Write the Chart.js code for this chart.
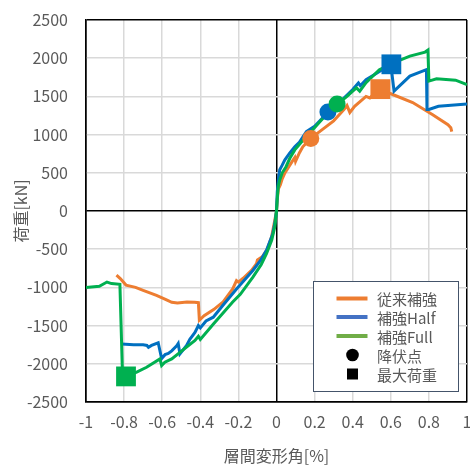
<!DOCTYPE html>
<html>
<head>
<meta charset="utf-8">
<script src="https://cdn.jsdelivr.net/npm/chart.js@4/dist/chart.umd.min.js"></script>
<style>
  html, body { margin: 0; padding: 0; background: #fff; }
  canvas { display: block; }
</style>
</head>
<body>
<canvas id="c" width="470" height="466"></canvas>
<script>
// 層間変形角[%] と 荷重[kN] の包絡線（各試験体）
const conventionalDrift = [-0.84, -0.82, -0.79, -0.74, -0.70, -0.63, -0.58, -0.55, -0.52, -0.47, -0.43, -0.41, -0.405, -0.38, -0.33, -0.28, -0.23, -0.21, -0.20, -0.175, -0.13, -0.105, -0.10, -0.075, -0.05, -0.026, -0.009, 0,
  0.004, 0.01, 0.02, 0.03, 0.044, 0.06, 0.08, 0.096, 0.10, 0.12, 0.138, 0.18, 0.24, 0.30, 0.355, 0.37, 0.385, 0.41, 0.47, 0.49, 0.54, 0.61, 0.715, 0.82, 0.90, 0.915, 0.92];
const conventionalLoad = [-840, -885, -970, -1000, -1040, -1105, -1160, -1195, -1205, -1190, -1195, -1200, -1430, -1370, -1290, -1190, -1020, -910, -930, -880, -775, -690, -640, -600, -510, -340, -120, 0,
  150, 290, 340, 420, 500, 560, 640, 700, 650, 760, 840, 950, 1065, 1180, 1330, 1380, 1290, 1370, 1500, 1480, 1595, 1525, 1420, 1260, 1130, 1090, 1040];

const halfDrift = [-0.813, -0.75, -0.70, -0.68, -0.672, -0.656, -0.621, -0.603, -0.585, -0.568, -0.55, -0.524, -0.516, -0.507, -0.472, -0.455, -0.428, -0.41, -0.40, -0.37, -0.332, -0.28, -0.21, -0.16, -0.123, -0.085, -0.052, -0.02, -0.009, 0,
  0.004, 0.01, 0.017, 0.03, 0.044, 0.07, 0.096, 0.12, 0.157, 0.20, 0.27, 0.33, 0.40, 0.43, 0.44, 0.47, 0.53, 0.60, 0.617, 0.70, 0.787, 0.79, 0.80, 0.85, 0.90, 1.0];
const halfLoad = [-1740, -1750, -1752, -1760, -1785, -1760, -1725, -1930, -1880, -1865, -1830, -1765, -1735, -1870, -1760, -1680, -1590, -1500, -1530, -1440, -1390, -1230, -1020, -880, -775, -650, -512, -300, -162, 0,
  250, 420, 540, 600, 670, 760, 840, 900, 1040, 1110, 1290, 1420, 1590, 1675, 1640, 1720, 1810, 1920, 1570, 1765, 1850, 1330, 1330, 1370, 1380, 1400];

const fullDrift = [-1.0, -0.93, -0.89, -0.866, -0.822, -0.808, -0.79, -0.734, -0.682, -0.612, -0.603, -0.586, -0.55, -0.507, -0.428, -0.41, -0.40, -0.33, -0.23, -0.19, -0.123, -0.08, -0.052, -0.025, -0.009, 0,
  0.005, 0.01, 0.017, 0.03, 0.05, 0.07, 0.096, 0.14, 0.19, 0.25, 0.32, 0.37, 0.40, 0.42, 0.437, 0.47, 0.54, 0.62, 0.70, 0.78, 0.795, 0.80, 0.84, 0.89, 0.94, 1.0];
const fullLoad = [-1000, -985, -930, -950, -960, -2170, -2165, -2110, -2046, -1936, -2024, -1980, -1936, -1850, -1695, -1640, -1680, -1476, -1192, -1090, -863, -700, -556, -380, -206, 0,
  200, 330, 407, 500, 580, 690, 800, 930, 1064, 1230, 1400, 1500, 1568, 1612, 1568, 1680, 1850, 1945, 2027, 2080, 2106, 1700, 1730, 1720, 1712, 1656];

// 降伏点・最大荷重 [従来補強, 補強Half, 補強Full]
const yieldDrift = [0.18, 0.27, 0.318];
const yieldLoad = [950, 1295, 1400];
const maxDrift = [0.545, 0.603, -0.79];
const maxLoad = [1595, 1920, -2165];

const xTicks = [-1, -0.8, -0.6, -0.4, -0.2, 0, 0.2, 0.4, 0.6, 0.8, 1];
const yTicks = [-2500, -2000, -1500, -1000, -500, 0, 500, 1000, 1500, 2000, 2500];

const seriesNames = ['従来補強', '補強Half', '補強Full'];
const lineColors = ['#ED7D31', '#0070C0', '#00B050'];
const legendColors = ['#ED7D31', '#4472C4', '#70AD47'];

const FONT = "'Noto Sans CJK JP', 'Noto Sans', sans-serif";
const TEXT = '#595959';

const pts = (xs, ys) => xs.map((x, i) => ({ x, y: ys[i] }));

const curves = [
  [conventionalDrift, conventionalLoad],
  [halfDrift, halfLoad],
  [fullDrift, fullLoad]
];

const datasets = [];
// markers on top
for (let i = 2; i >= 0; i--) {
  datasets.push({
    label: seriesNames[i] + ' 最大荷重',
    data: [{ x: maxDrift[i], y: maxLoad[i] }],
    showLine: false,
    pointStyle: 'rect',
    pointRadius: 14,
    pointHoverRadius: 14,
    backgroundColor: lineColors[i],
    borderColor: lineColors[i],
    borderWidth: 0,
    order: 0
  });
}
for (let i = 2; i >= 0; i--) {
  datasets.push({
    label: seriesNames[i] + ' 降伏点',
    data: [{ x: yieldDrift[i], y: yieldLoad[i] }],
    showLine: false,
    pointStyle: 'circle',
    pointRadius: 8.5,
    pointHoverRadius: 8.5,
    backgroundColor: lineColors[i],
    borderColor: lineColors[i],
    borderWidth: 0,
    order: 1
  });
}
for (let i = 2; i >= 0; i--) {
  datasets.push({
    label: seriesNames[i],
    data: pts(curves[i][0], curves[i][1]),
    showLine: true,
    borderColor: lineColors[i],
    borderWidth: 3,
    pointRadius: 0,
    tension: 0,
    fill: false,
    order: 2
  });
}

// 凡例（プロット領域内の枠付き）
const legendPlugin = {
  id: 'boxLegend',
  afterDraw(chart) {
    const ctx = chart.ctx;
    const bx = 313.5, by = 281.5, bw = 145, bh = 110;
    ctx.save();
    ctx.fillStyle = '#ffffff';
    ctx.fillRect(bx, by, bw, bh);
    ctx.strokeStyle = '#44546A';
    ctx.lineWidth = 1;
    ctx.strokeRect(bx, by, bw, bh);
    const rows = [298.5, 317, 336, 355, 374];
    const labels = [seriesNames[0], seriesNames[1], seriesNames[2], '降伏点', '最大荷重'];
    for (let i = 0; i < 3; i++) {
      ctx.strokeStyle = legendColors[i];
      ctx.lineWidth = 4;
      ctx.beginPath();
      ctx.moveTo(336.5, rows[i]);
      ctx.lineTo(367.5, rows[i]);
      ctx.stroke();
    }
    ctx.fillStyle = '#000';
    ctx.beginPath();
    ctx.arc(352.5, rows[3], 6.3, 0, Math.PI * 2);
    ctx.fill();
    ctx.fillRect(347, rows[4] - 5.5, 11, 11);
    ctx.fillStyle = TEXT;
    ctx.font = '15px ' + FONT;
    ctx.textBaseline = 'middle';
    ctx.textAlign = 'left';
    labels.forEach((t, i) => ctx.fillText(t, 377, rows[i] + 1));
    ctx.restore();
  }
};

const isEdge = (v, lim) => Math.abs(v) < 1e-9 || Math.abs(Math.abs(v) - lim) < 1e-9;

new Chart(document.getElementById('c'), {
  type: 'scatter',
  data: { datasets },
  options: {
    responsive: false,
    animation: false,
    devicePixelRatio: 1,
    layout: { autoPadding: false, padding: { top: 20, right: 3, left: 0, bottom: 0 } },
    plugins: {
      legend: { display: false },
      tooltip: { enabled: false }
    },
    scales: {
      x: {
        type: 'linear',
        min: xTicks[0],
        max: xTicks[xTicks.length - 1],
        afterBuildTicks: (s) => { s.ticks = xTicks.map(v => ({ value: v })); },
        afterFit: (s) => { s.height = 64; s.paddingLeft = 0; s.paddingRight = 0; },
        ticks: {
          padding: 10,
          color: TEXT,
          font: { family: FONT, size: 16 },
          maxRotation: 0,
          autoSkip: false,
          callback: (v) => String(Number(v.toFixed(1)))
        },
        grid: {
          drawTicks: false,
          color: (c) => isEdge(c.tick.value, 1) ? '#000000' : '#D9D9D9',
          lineWidth: 1.5
        },
        border: { display: true, color: '#000000', width: 1.5 },
        title: {
          display: true,
          text: '層間変形角[%]',
          color: TEXT,
          font: { family: FONT, size: 16 },
          padding: { top: 0, bottom: 0 }
        }
      },
      y: {
        type: 'linear',
        min: yTicks[0],
        max: yTicks[yTicks.length - 1],
        afterBuildTicks: (s) => { s.ticks = yTicks.map(v => ({ value: v })); },
        afterFit: (s) => { s.width = 86; s.paddingTop = 0; s.paddingBottom = 0; },
        ticks: {
          padding: 18,
          color: TEXT,
          font: { family: FONT, size: 16 },
          autoSkip: false,
          callback: (v) => String(v)
        },
        grid: {
          drawTicks: false,
          color: (c) => isEdge(c.tick.value, 2500) ? '#000000' : '#D9D9D9',
          lineWidth: 1.5
        },
        border: { display: true, color: '#000000', width: 1.5 },
        title: {
          display: true,
          text: '荷重[kN]',
          color: TEXT,
          font: { family: FONT, size: 16 },
          padding: { top: 11, bottom: 0 }
        }
      }
    }
  },
  plugins: [legendPlugin]
});
</script>
</body>
</html>
